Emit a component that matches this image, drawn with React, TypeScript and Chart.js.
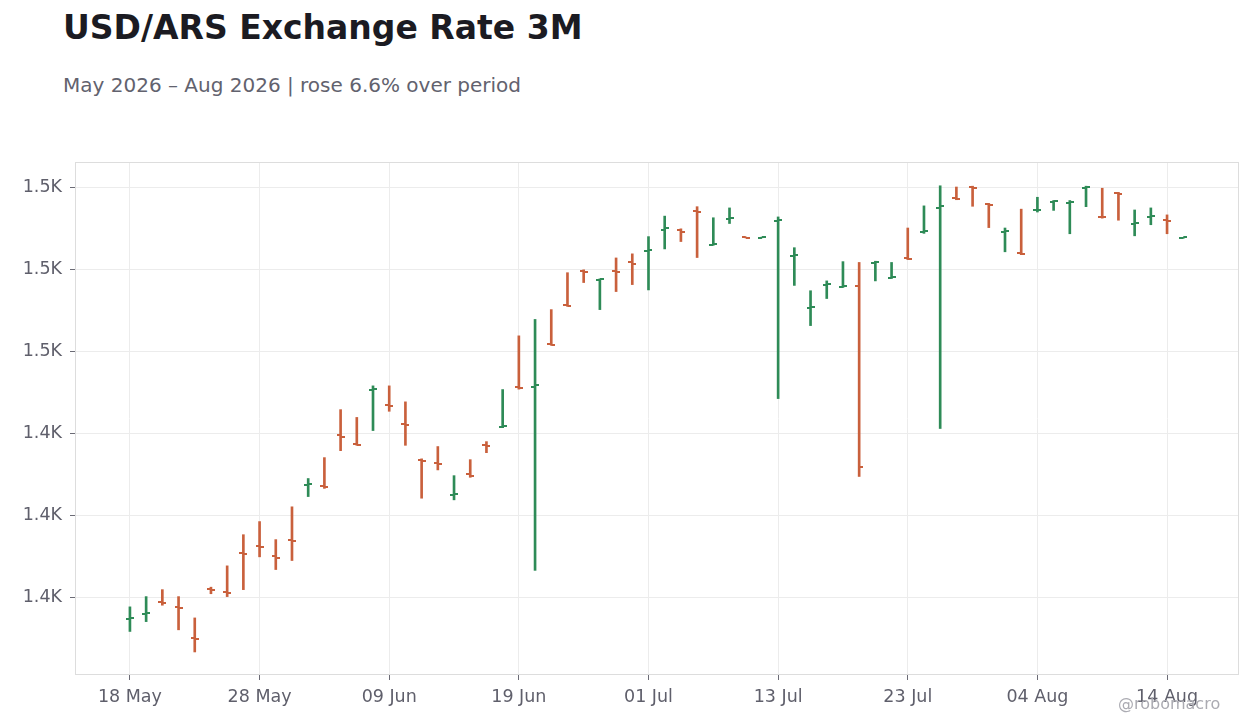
import { useEffect, useRef } from 'react';
import { Chart, registerables } from 'chart.js';

Chart.register(...registerables);

// weekday sessions, 18 May 2026 .. 17 Aug 2026
const DATES = [
  '18 May', '19 May', '20 May', '21 May', '22 May', '25 May', '26 May', '27 May', '28 May', '29 May',
  '01 Jun', '02 Jun', '03 Jun', '04 Jun', '05 Jun', '08 Jun', '09 Jun', '10 Jun', '11 Jun', '12 Jun',
  '15 Jun', '16 Jun', '17 Jun', '18 Jun', '19 Jun', '22 Jun', '23 Jun', '24 Jun', '25 Jun', '26 Jun',
  '29 Jun', '30 Jun', '01 Jul', '02 Jul', '03 Jul', '06 Jul', '07 Jul', '08 Jul', '09 Jul', '10 Jul',
  '13 Jul', '14 Jul', '15 Jul', '16 Jul', '17 Jul', '20 Jul', '21 Jul', '22 Jul', '23 Jul', '24 Jul',
  '27 Jul', '28 Jul', '29 Jul', '30 Jul', '31 Jul', '03 Aug', '04 Aug', '05 Aug', '06 Aug', '07 Aug',
  '10 Aug', '11 Aug', '12 Aug', '13 Aug', '14 Aug', '17 Aug',
];

const OPEN = [
  1394.7, 1395.8, 1398.9, 1397.5, 1390.0, 1402.0, 1401.3, 1410.8, 1412.5, 1409.9,
  1413.9, 1427.2, 1427.1, 1439.4, 1437.4, 1450.4, 1446.9, 1442.3, 1433.5, 1432.8,
  1424.9, 1429.9, 1437.1, 1441.5, 1451.3, 1451.2, 1461.8, 1471.3, 1479.5, 1477.3,
  1479.6, 1481.6, 1484.4, 1489.6, 1489.4, 1494.2, 1485.9, 1492.2, 1487.8, 1487.6,
  1491.6, 1483.1, 1470.5, 1476.1, 1475.6, 1475.8, 1481.5, 1477.8, 1482.8, 1489.1,
  1495.0, 1497.2, 1500.0, 1495.9, 1489.1, 1483.9, 1494.3, 1496.4, 1496.2, 1499.8,
  1492.8, 1498.6, 1491.0, 1492.7, 1492.0, 1487.5,
];

const HIGH = [
  1397.6, 1400.1, 1401.8, 1400.1, 1394.9, 1402.4, 1407.6, 1415.2, 1418.4, 1414.0,
  1422.0, 1428.9, 1434.0, 1445.7, 1443.8, 1451.5, 1451.5, 1447.6, 1433.7, 1436.7,
  1429.6, 1433.5, 1437.9, 1450.6, 1463.7, 1467.7, 1470.1, 1479.1, 1479.8, 1477.6,
  1482.7, 1483.7, 1487.9, 1492.9, 1489.8, 1495.2, 1492.5, 1494.9, 1487.8, 1487.8,
  1492.7, 1485.2, 1474.7, 1477.1, 1481.8, 1481.6, 1481.9, 1481.6, 1490.0, 1495.4,
  1500.3, 1500.0, 1500.2, 1496.0, 1490.0, 1494.6, 1497.5, 1496.7, 1496.7, 1500.2,
  1499.7, 1498.7, 1494.4, 1494.9, 1493.2, 1487.7,
];

const LOW = [
  1391.6, 1394.0, 1398.0, 1392.0, 1386.6, 1400.8, 1400.1, 1401.8, 1409.8, 1406.7,
  1408.9, 1424.5, 1426.5, 1435.7, 1437.0, 1440.6, 1445.3, 1437.0, 1424.1, 1431.0,
  1423.7, 1429.2, 1435.2, 1441.3, 1450.7, 1406.5, 1461.4, 1470.9, 1476.7, 1470.1,
  1474.5, 1476.2, 1474.9, 1484.9, 1486.7, 1482.8, 1485.8, 1491.1, 1487.6, 1487.6,
  1448.4, 1476.0, 1466.2, 1472.8, 1475.5, 1429.4, 1477.1, 1477.7, 1482.3, 1488.7,
  1441.1, 1496.9, 1495.3, 1490.1, 1484.2, 1483.5, 1493.9, 1494.3, 1488.6, 1495.2,
  1492.4, 1491.9, 1488.1, 1490.8, 1488.6, 1487.5,
];

const CLOSE = [
  1395.0, 1396.1, 1398.6, 1397.2, 1389.7, 1401.8, 1401.0, 1410.5, 1412.2, 1409.6,
  1413.6, 1427.5, 1426.8, 1439.1, 1437.1, 1450.7, 1446.6, 1442.0, 1433.1, 1432.5,
  1425.1, 1429.6, 1436.9, 1441.7, 1451.0, 1451.6, 1461.5, 1471.0, 1479.2, 1477.5,
  1479.3, 1481.3, 1484.7, 1489.9, 1489.1, 1493.9, 1486.1, 1492.4, 1487.6, 1487.8,
  1492.0, 1483.3, 1470.7, 1476.3, 1475.8, 1431.6, 1481.7, 1478.0, 1482.5, 1489.3,
  1495.3, 1497.0, 1499.8, 1495.7, 1489.3, 1483.7, 1494.5, 1496.6, 1496.4, 1500.0,
  1492.6, 1498.4, 1491.2, 1492.9, 1491.8, 1487.7,
];

const X_TICKS = [0, 8, 16, 24, 32, 40, 48, 56, 64];
const Y_TICKS = [1400, 1420, 1440, 1460, 1480, 1500];

const UP = '#2e8b57';
const DOWN = '#c9603c';
const FONT = "'DejaVu Sans', sans-serif";

function tickImage(color: string, side: 'left' | 'right') {
  const c = document.createElement('canvas');
  c.width = 8;
  c.height = 2;
  const ctx = c.getContext('2d')!;
  ctx.fillStyle = color;
  ctx.fillRect(side === 'left' ? 0 : 4, 0, 4, 2);
  return c;
}

const framePlugin = {
  id: 'frame',
  beforeDatasetsDraw(chart: Chart) {
    const { ctx, chartArea: a } = chart;
    ctx.save();
    ctx.strokeStyle = '#dddddd';
    ctx.lineWidth = 1;
    ctx.strokeRect(Math.round(a.left) + 0.5, Math.round(a.top) + 0.5, Math.round(a.width) - 1, Math.round(a.height) - 1);
    ctx.restore();
  },
};

export default function App() {
  const canvasRef = useRef<HTMLCanvasElement>(null);

  useEffect(() => {
    if (!canvasRef.current) return;
    const isUp = (i: number) => CLOSE[i] >= OPEN[i];
    const img = {
      openUp: tickImage(UP, 'left'),
      openDown: tickImage(DOWN, 'left'),
      closeUp: tickImage(UP, 'right'),
      closeDown: tickImage(DOWN, 'right'),
    };

    const chart = new Chart(canvasRef.current, {
      type: 'bar',
      data: {
        datasets: [
          {
            type: 'line',
            data: OPEN.map((v, i) => ({ x: i, y: v })),
            showLine: false,
            pointRadius: 3,
            pointStyle: (c: any) => (isUp(c.dataIndex) ? img.openUp : img.openDown),
            order: 0,
          } as any,
          {
            type: 'line',
            data: CLOSE.map((v, i) => ({ x: i, y: v })),
            showLine: false,
            pointRadius: 3,
            pointStyle: (c: any) => (isUp(c.dataIndex) ? img.closeUp : img.closeDown),
            order: 0,
          } as any,
          {
            type: 'bar',
            data: LOW.map((v, i) => ({ x: i, y: [v, HIGH[i]] })),
            backgroundColor: (c: any) => (isUp(c.dataIndex) ? UP : DOWN),
            barThickness: 2,
            borderWidth: 0,
            borderSkipped: false,
            order: 1,
          } as any,
        ],
      },
      options: {
        animation: false,
        responsive: true,
        maintainAspectRatio: false,
        events: [],
        layout: { padding: { top: 162, right: 21, left: 0, bottom: 0 } },
        plugins: {
          legend: { display: false },
          tooltip: { enabled: false },
          title: { display: false },
        },
        scales: {
          x: {
            type: 'linear',
            offset: false,
            min: -3.39,
            max: 68.44,
            afterBuildTicks: (s: any) => {
              s.ticks = X_TICKS.map((v) => ({ value: v }));
            },
            afterFit: (s: any) => {
              s.height = 53;
            },
            grid: { offset: false, color: '#ececec', tickColor: '#6b6b75', tickLength: 5 },
            border: { display: false },
            ticks: {
              autoSkip: false,
              maxRotation: 0,
              padding: 7,
              color: '#5f5f6b',
              font: { family: FONT, size: 17.5 },
              callback: (v: any) => DATES[v] ?? '',
            },
          },
          y: {
            type: 'linear',
            min: 1380.98,
            max: 1506.1,
            afterBuildTicks: (s: any) => {
              s.ticks = Y_TICKS.map((v) => ({ value: v }));
            },
            afterFit: (s: any) => {
              s.width = 75;
            },
            grid: { color: '#ececec', tickColor: '#6b6b75', tickLength: 5 },
            border: { display: false },
            ticks: {
              padding: 8,
              color: '#5f5f6b',
              font: { family: FONT, size: 17.5 },
              callback: (v: any) => (Number(v) / 1000).toFixed(1) + 'K',
            },
          },
        },
      },
      plugins: [framePlugin],
    } as any);

    return () => {
      chart.destroy();
    };
  }, []);

  return (
    <div
      style={{
        position: 'fixed',
        left: 0,
        top: 0,
        width: 1260,
        height: 728,
        background: '#ffffff',
        fontFamily: FONT,
        overflow: 'hidden',
      }}
    >
      <div
        style={{
          position: 'absolute',
          left: 63,
          top: 12,
          fontSize: 33,
          lineHeight: '32px',
          fontWeight: 'bold',
          color: '#1b1b22',
          whiteSpace: 'nowrap',
        }}
      >
        USD/ARS Exchange Rate 3M
      </div>
      <div
        style={{
          position: 'absolute',
          left: 63,
          top: 75,
          fontSize: 20,
          lineHeight: '20px',
          color: '#62626e',
          whiteSpace: 'nowrap',
        }}
      >
        May 2026 – Aug 2026 | rose 6.6% over period
      </div>
      <div style={{ position: 'absolute', left: 0, top: 0, width: 1260, height: 728 }}>
        <canvas ref={canvasRef} />
      </div>
      <div
        style={{
          position: 'absolute',
          left: 1118,
          top: 696,
          fontSize: 16,
          lineHeight: '16px',
          color: '#ababb2',
          whiteSpace: 'nowrap',
        }}
      >
        @robomacro
      </div>
    </div>
  );
}
